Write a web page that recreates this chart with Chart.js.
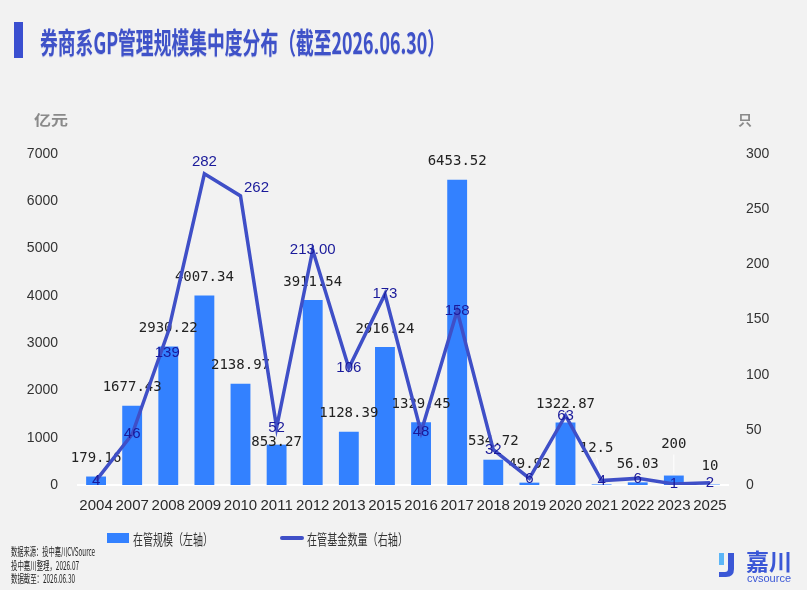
<!DOCTYPE html>
<html>
<head>
<meta charset="utf-8">
<script src="https://cdn.jsdelivr.net/npm/chart.js@4.4.1/dist/chart.umd.min.js"></script>
<style>
html,body{margin:0;padding:0;background:#f2f2f2;}
#wrap{position:relative;width:807px;height:590px;overflow:hidden;background:#f2f2f2;font-family:"Noto Sans CJK SC",sans-serif;}
#chart{position:absolute;left:0;top:0;}
.fit{position:absolute;white-space:nowrap;transform-origin:left center;line-height:1;}
#tbar{position:absolute;left:14px;top:22px;width:9px;height:36px;background:#3a4fd0;}
#title{left:40px;top:27px;font-size:29px;font-weight:bold;color:#3f52c8;text-shadow:0 1px 0 rgba(63,82,200,0.25);}
.unit{font-size:14px;font-weight:bold;color:#8a8a8a;}
.leg{font-size:15px;color:#333;}
.foot{font-size:11.5px;color:#222;}
#legBox{position:absolute;left:107px;top:533px;width:22px;height:10px;background:#3381ff;}
#legLine{position:absolute;left:280px;top:536px;width:24px;height:4px;background:#3f4fc7;border-radius:2px;}
#logoTxt{position:absolute;left:746px;top:549px;font-size:23px;font-weight:bold;color:#3b57d6;line-height:1;}
#logoSub{position:absolute;left:747px;top:573px;font-size:11px;color:#3b57d6;font-family:"Liberation Sans",Arial,sans-serif;line-height:1;}
</style>
</head>
<body>
<div id="wrap">
  <canvas id="chart" width="807" height="590"></canvas>
  <div id="tbar"></div>
  <div id="title" class="fit" data-w="405">券商系GP管理规模集中度分布（截至2026.06.30）</div>
  <div class="fit unit" style="left:34px;top:112px" data-w="34">亿元</div>
  <div class="fit unit" style="left:738px;top:112px" data-w="14">只</div>
  <div id="legBox"></div>
  <div class="fit leg" style="left:133px;top:531px" data-w="80">在管规模（左轴）</div>
  <div id="legLine"></div>
  <div class="fit leg" style="left:307px;top:531px" data-w="101">在管基金数量（右轴）</div>
  <div class="fit foot" style="left:11px;top:546px" data-w="84">数据来源：投中嘉川CVSource</div>
  <div class="fit foot" style="left:11px;top:560px" data-w="68">投中嘉川整理，2026.07</div>
  <div class="fit foot" style="left:11px;top:573px" data-w="64">数据截至：2026.06.30</div>
  <svg style="position:absolute;left:717px;top:551px" width="20" height="28" viewBox="0 0 20 28">
    <path d="M2 2 h5 v12 h-5 z" fill="#5cb6f7"/>
    <path d="M11 2 h6 v16 q0 8 -8 8 h-7 v-5 h6 q3 0 3 -3 z" fill="#3b57d6"/>
  </svg>
  <div id="logoTxt">嘉川</div>
  <div id="logoSub">cvsource</div>
</div>
<script>
/* 券商系GP 在管规模 / 在管基金数量 */
const years=['2004','2007','2008','2009','2010','2011','2012','2013','2015','2016','2017','2018','2019','2020','2021','2022','2023','2025'];
const scaleValues=[179.16,1677.43,2930.22,4007.34,2138.97,853.27,3911.54,1128.39,2916.24,1329.45,6453.52,534.72,49.92,1322.87,12.5,56.03,200,10];
const fundCounts=[4,46,139,282,262,52,213,106,173,48,158,32,6,63,4,6,1,2];
const leftTicks=[0,1000,2000,3000,4000,5000,6000,7000];
const rightTicks=[0,50,100,150,200,250,300];

// squeeze html texts to the widths in the picture
document.querySelectorAll('.fit').forEach(el=>{
  const w=+el.dataset.w, r=el.getBoundingClientRect().width;
  if(w&&r)el.style.transform='scaleX('+(w/r)+')';
});

const barShift={5:[0,16],14:[-5,-18],16:[0,-13]};   // labels moved off the default spot
const lineShift={2:[-1,21],3:[0,-12],4:[16,-8]};
const countText=(v,i)=>i===6?v.toFixed(2):String(v);

const labelPlugin={
  id:'labels',
  afterDatasetDraw(chart,args){
    if(args.index!==0)return;
    const ctx=chart.ctx;
    ctx.save();
    ctx.font='14px "DejaVu Sans Mono", monospace';
    ctx.fillStyle='#222';ctx.textAlign='center';ctx.textBaseline='middle';
    args.meta.data.forEach((b,i)=>{
      const s=barShift[i]||[0,0];
      const x=b.x+s[0],y=b.y-18+s[1];
      if(i===14||i===16){
        ctx.strokeStyle='#ffffff';ctx.lineWidth=1;
        ctx.beginPath();ctx.moveTo(x,y+10);ctx.lineTo(b.x,b.y-2);ctx.stroke();
      }
      ctx.fillText(String(scaleValues[i]),x,y);
    });
    ctx.restore();
  },
  afterDatasetsDraw(chart){
    const ctx=chart.ctx,meta=chart.getDatasetMeta(1);
    ctx.save();
    ctx.font='15px "Liberation Sans", Arial, sans-serif';
    ctx.fillStyle='#1a1a9a';ctx.textAlign='center';ctx.textBaseline='middle';
    meta.data.forEach((p,i)=>{
      const s=lineShift[i]||[0,0];
      ctx.fillText(countText(fundCounts[i],i),p.x+s[0],p.y+s[1]);
    });
    ctx.restore();
  }
};

Chart.defaults.font.family='"Liberation Sans", Arial, sans-serif';
Chart.defaults.color='#333';

new Chart(document.getElementById('chart').getContext('2d'),{
  data:{labels:years,datasets:[
    {type:'bar',label:'在管规模（左轴）',data:scaleValues,yAxisID:'y',order:2,
     backgroundColor:'#3381ff',barPercentage:0.55,categoryPercentage:1},
    {type:'line',label:'在管基金数量（右轴）',data:fundCounts,yAxisID:'y1',order:1,
     borderColor:'#3f4fc7',borderWidth:3.5,pointRadius:0,tension:0,borderJoinStyle:'miter'}
  ]},
  options:{
    responsive:false,animation:false,
    layout:{padding:{left:0,right:0,top:154,bottom:0}},
    plugins:{legend:{display:false},tooltip:{enabled:false}},
    scales:{
      x:{grid:{display:false},border:{display:true,color:'#ffffff',width:2},
         ticks:{font:{size:15},color:'#2a2a2a',padding:4,maxRotation:0,autoSkip:false},
         afterFit:s=>{s.height=105;}},
      y:{position:'left',min:0,max:7000,grid:{display:false},border:{display:false},
         afterBuildTicks:s=>{s.ticks=leftTicks.map(v=>({value:v}));},
         ticks:{font:{size:14},color:'#333',padding:12,callback:v=>String(v)},
         afterFit:s=>{s.width=78;}},
      y1:{position:'right',min:0,max:300,grid:{display:false},border:{display:false},
         afterBuildTicks:s=>{s.ticks=rightTicks.map(v=>({value:v}));},
         ticks:{font:{size:14},color:'#333',padding:10,callback:v=>String(v)},
         afterFit:s=>{s.width=79;}}
    }
  },
  plugins:[labelPlugin]
});
</script>
</body>
</html>
